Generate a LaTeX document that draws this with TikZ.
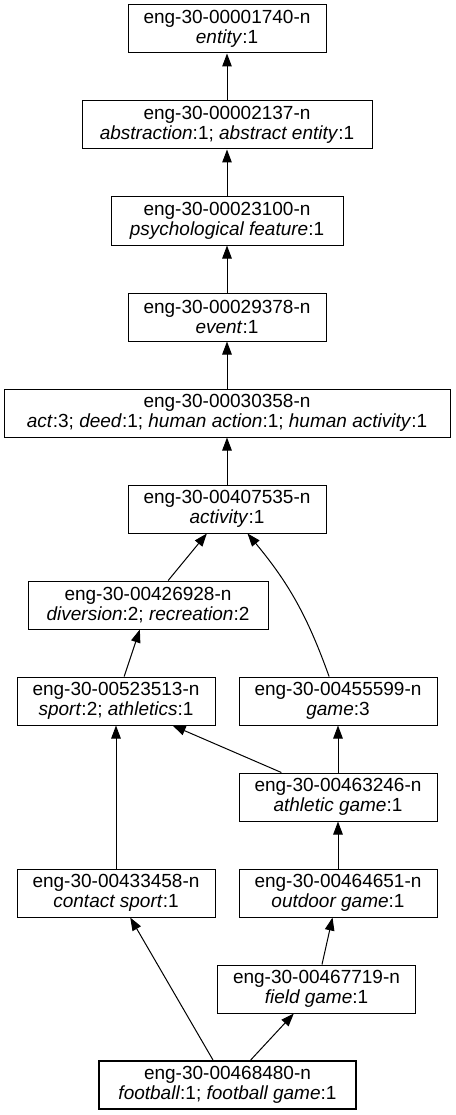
\documentclass[tikz,border=0pt]{standalone}
\usepackage{fontspec}
\setmainfont{Liberation Sans}
\usetikzlibrary{arrows.meta}

\begin{document}
\begin{tikzpicture}[x=1pt, y=-1pt,
    synset/.style={draw, line width=1pt, rectangle, inner sep=0pt,
      minimum width=198pt, minimum height=48pt, align=center,
      font=\fontsize{19}{19.5}\selectfont},
    hypernym/.style={-{Triangle[length=13pt,width=9.5pt]}, line width=1pt}]
  \useasboundingbox (0,0) rectangle (455,1115);

  % hypernym chain, one rank every 96 units, root on top
  \node[synset] (entity) at (227,29)
    {eng-30-00001740-n\\\textit{entity}:1};
  \node[synset, minimum width=290pt] (abstraction) at (227,125)
    {eng-30-00002137-n\\\textit{abstraction}:1; \textit{abstract entity}:1};
  \node[synset, minimum width=232pt] (psychfeature) at (227,221)
    {eng-30-00023100-n\\\textit{psychological feature}:1};
  \node[synset] (event) at (227,317)
    {eng-30-00029378-n\\\textit{event}:1};
  \node[synset, minimum width=446pt] (act) at (227,413)
    {eng-30-00030358-n\\\textit{act}:3; \textit{deed}:1; \textit{human action}:1; \textit{human activity}:1};
  \node[synset] (activity) at (227,509)
    {eng-30-00407535-n\\\textit{activity}:1};
  \node[synset, minimum width=240pt] (diversion) at (148,605)
    {eng-30-00426928-n\\\textit{diversion}:2; \textit{recreation}:2};
  \node[synset] (sport) at (116,701)
    {eng-30-00523513-n\\\textit{sport}:2; \textit{athletics}:1};
  \node[synset] (game) at (338,701)
    {eng-30-00455599-n\\\textit{game}:3};
  \node[synset] (athleticgame) at (338,797)
    {eng-30-00463246-n\\\textit{athletic game}:1};
  \node[synset] (contactsport) at (116,893)
    {eng-30-00433458-n\\\textit{contact sport}:1};
  \node[synset] (outdoorgame) at (338,893)
    {eng-30-00464651-n\\\textit{outdoor game}:1};
  \node[synset] (fieldgame) at (316.5,989)
    {eng-30-00467719-n\\\textit{field game}:1};
  % the query synset gets the heavy frame
  \node[synset, minimum width=257pt, line width=2.2pt] (football) at (227.5,1085)
    {eng-30-00468480-n\\\textit{football}:1; \textit{football game}:1};

  \draw[hypernym] (abstraction) -- (entity);
  \draw[hypernym] (psychfeature) -- (abstraction);
  \draw[hypernym] (event) -- (psychfeature);
  \draw[hypernym] (act) -- (event);
  \draw[hypernym] (activity) -- (act);
  \draw[hypernym] (diversion) -- (activity);
  \draw[hypernym] (game) to[bend right=10] (activity);
  \draw[hypernym] (sport) -- (diversion);
  \draw[hypernym] (athleticgame) -- (game);
  \draw[hypernym] (athleticgame) -- (sport);
  \draw[hypernym] (contactsport) -- (sport);
  \draw[hypernym] (outdoorgame) -- (athleticgame);
  \draw[hypernym] (fieldgame) -- (outdoorgame);
  \draw[hypernym] (football) -- (contactsport);
  \draw[hypernym] (football) -- (fieldgame);
\end{tikzpicture}
\end{document}
